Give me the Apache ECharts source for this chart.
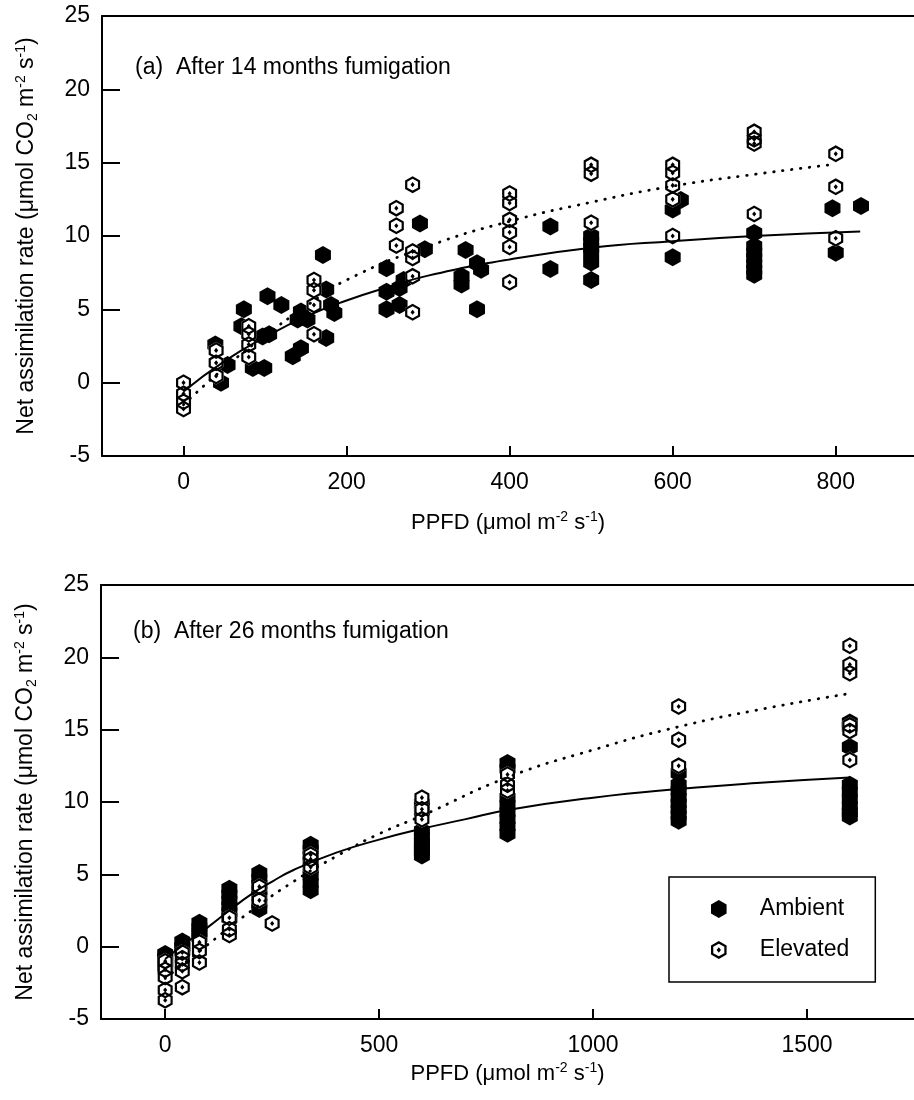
<!DOCTYPE html>
<html><head><meta charset="utf-8">
<script src="https://cdn.jsdelivr.net/npm/echarts@6/dist/echarts.min.js"></script>
<style>html,body{margin:0;padding:0;background:#fff}#c{width:914px;height:1100px}</style>
</head><body><div id="c"></div>
<script>
// ---------- Panel (a): after 14 months ----------
const ambientA = [[39,2.6],[46,0.0],[54,1.2],[74,5.0],[71,3.85],[85,1.0],[99,1.0],[97,3.15],[105,3.3],[103,5.9],[120,5.3],[134,1.8],[144,2.35],[144,4.85],[140,4.3],[152,4.3],[171,8.7],[175,6.35],[181,5.3],[185,4.75],[175,3.05],[249,7.8],[249,6.2],[249,5.0],[265,6.45],[270,7.0],[265,5.3],[290,10.85],[296,9.1],[341,7.25],[341,6.7],[346,9.05],[360,8.15],[365,7.7],[360,5.0],[450,10.65],[450,7.75],[500,10.0],[500,9.6],[500,9.2],[500,8.8],[500,8.2],[500,7.0],[600,11.8],[610,12.45],[600,8.55],[700,10.2],[700,9.3],[700,8.9],[700,8.5],[700,8.1],[700,7.7],[700,7.35],[796,11.9],[800,8.85],[831,12.05]];
const elevatedA = [[0,0.0],[0,-0.75],[0,-1.3],[0,-1.8],[40,2.2],[40,1.35],[40,0.45],[80,3.85],[80,3.3],[80,2.6],[80,1.75],[160,7.0],[160,6.3],[160,5.3],[160,3.3],[261,11.9],[261,10.7],[261,9.35],[281,13.5],[281,8.95],[281,8.5],[281,7.25],[281,4.8],[400,12.9],[400,12.25],[400,11.1],[400,10.25],[400,9.25],[400,6.85],[500,14.85],[500,14.25],[500,10.9],[600,14.85],[600,14.3],[600,13.45],[600,12.5],[600,10.0],[700,17.1],[700,16.6],[700,16.3],[700,11.5],[800,15.6],[800,13.35],[800,9.85]];
const fitAmbAX = [0,50,100,150,200,250,300,400,500,600,700,830];
const fitAmbAY = [-0.6,1.45,3.1,4.5,5.6,6.5,7.3,8.4,9.2,9.65,10.0,10.3];
const fitEleAX = [0,50,100,150,200,300,400,500,600,700,800];
const fitEleAY = [-1.5,1.0,3.2,5.2,7.0,9.3,11.0,12.3,13.4,14.2,14.9];
const xTicksA = [0,200,400,600,800];

// ---------- Panel (b): after 26 months ----------
const ambientB = [[0,-0.5],[0,-0.8],[0,-1.1],[0,-1.4],[40,0.35],[40,0.0],[40,-0.3],[80,1.65],[80,1.3],[80,1.0],[80,0.65],[150,4.0],[150,3.6],[150,3.2],[150,2.8],[150,2.4],[150,2.0],[220,5.1],[220,4.7],[220,4.3],[220,3.9],[220,3.5],[220,3.0],[220,2.6],[340,7.05],[340,6.7],[340,6.3],[340,5.9],[340,5.4],[340,4.9],[340,4.4],[340,3.9],[600,9.9],[600,9.4],[600,8.0],[600,7.6],[600,7.2],[600,6.9],[600,6.6],[600,6.3],[800,12.7],[800,12.3],[800,10.3],[800,9.8],[800,9.3],[800,8.8],[800,8.3],[800,7.8],[1200,12.0],[1200,11.2],[1200,10.8],[1200,10.3],[1200,9.9],[1200,9.5],[1200,9.1],[1200,8.7],[1600,15.5],[1600,15.2],[1600,13.8],[1600,11.2],[1600,10.7],[1600,10.2],[1600,9.7],[1600,9.3],[1600,9.0]];
const elevatedB = [[0,-1.0],[0,-1.6],[0,-2.1],[0,-3.0],[0,-3.7],[40,-0.4],[40,-0.8],[40,-1.2],[40,-1.7],[40,-2.8],[80,0.3],[80,-0.3],[80,-1.1],[150,2.0],[150,1.2],[150,0.8],[220,4.15],[220,3.2],[250,1.6],[340,6.35],[340,6.05],[340,5.5],[600,10.3],[600,9.5],[600,8.8],[800,11.9],[800,11.2],[800,10.8],[1200,16.6],[1200,14.3],[1200,12.5],[1600,20.8],[1600,19.5],[1600,18.9],[1600,15.3],[1600,14.9],[1600,12.9]];
const fitAmbBX = [0,50,100,150,200,250,300,400,500,600,700,800,1000,1200,1400,1600];
const fitAmbBY = [-0.85,0.3,1.35,2.5,3.6,4.5,5.3,6.5,7.4,8.15,8.8,9.45,10.3,10.9,11.35,11.7];
const fitEleBX = [0,100,200,300,400,500,600,800,1000,1200,1400,1600];
const fitEleBY = [-2.2,0.15,2.45,4.5,6.25,7.8,9.05,11.7,13.6,15.2,16.45,17.5];
const xTicksB = [0,500,1000,1500];

const yTitle = 'Net assimilation rate (μmol CO{sub|2} m{sup|-2} s{sup|-1})';
const xTitle = 'PPFD (μmol m{sup|-2} s{sup|-1})';
const panelTitles = ['(a)  After 14 months fumigation', '(b)  After 26 months fumigation'];
const legendNames = ['Ambient', 'Elevated'];

const FONT = '"Liberation Sans", Arial, Helvetica, sans-serif';
const hexPath = 'path://M50 0L93.3 25L93.3 75L50 100L6.7 75L6.7 25Z';
const ringPath = 'path://M50 0L93.3 25L93.3 75L50 100L6.7 75L6.7 25Z M50 15L19.3 32.5L19.3 67.5L50 85L80.7 67.5L80.7 32.5Z M50 35L62 50L50 65L38 50Z';
const zip = (xs, ys) => xs.map((x, i) => [x, ys[i]]);
const black = '#000';
const richSS = {
  sup: {fontSize: 14, lineHeight: 14, verticalAlign: 'top', fontFamily: FONT, color: black},
  sub: {fontSize: 14, lineHeight: 14, verticalAlign: 'bottom', fontFamily: FONT, color: black}
};
const axLine = {show: true, onZero: false, lineStyle: {color: black, width: 2}};

function xAxes(gi, min, max, ticks, gap) {
  return [{
    gridIndex: gi, type: 'value', min: min, max: max, position: 'bottom',
    axisLine: axLine,
    axisTick: {show: true, inside: true, length: 10, customValues: ticks, lineStyle: {color: black, width: 2}},
    axisLabel: {customValues: ticks, fontSize: 23, color: black, margin: 15, fontFamily: FONT,
      formatter: v => String(v)},
    splitLine: {show: false},
    name: xTitle, nameLocation: 'middle', nameGap: gap,
    nameTextStyle: {fontSize: 22, lineHeight: 26, color: black, fontFamily: FONT, rich: richSS}
  }, {
    gridIndex: gi, type: 'value', min: min, max: max, position: 'top',
    axisLine: axLine, axisTick: {show: false}, axisLabel: {show: false}, splitLine: {show: false}
  }];
}
function yAxis(gi) {
  return {
    gridIndex: gi, type: 'value', min: -5, max: 25, interval: 5,
    axisLine: axLine,
    axisTick: {show: true, inside: true, length: 18, lineStyle: {color: black, width: 2}},
    axisLabel: {fontSize: 23, color: black, margin: 12, fontFamily: FONT},
    splitLine: {show: false},
    name: yTitle, nameLocation: 'middle', nameGap: 62, nameRotate: 90,
    nameTextStyle: {fontSize: 23, lineHeight: 26, color: black, fontFamily: FONT, rich: richSS}
  };
}
function panelSeries(xi, yi, amb, ele, ax, ay, ex, ey) {
  return [
    {type: 'line', xAxisIndex: xi, yAxisIndex: yi, data: zip(ax, ay), smooth: true, showSymbol: false,
      lineStyle: {color: black, width: 2}, silent: true},
    {type: 'line', xAxisIndex: xi, yAxisIndex: yi, data: zip(ex, ey), smooth: true, showSymbol: false,
      lineStyle: {color: black, width: 2.8, type: [0.5, 8.5], cap: 'round'}, silent: true},
    {type: 'scatter', name: legendNames[0], xAxisIndex: xi, yAxisIndex: yi, data: amb,
      symbol: hexPath, symbolSize: [16, 18], itemStyle: {color: black, opacity: 1}},
    {type: 'scatter', name: 'bg', xAxisIndex: xi, yAxisIndex: yi, data: ele,
      symbol: hexPath, symbolSize: [15, 17], itemStyle: {color: '#fff', opacity: 1}},
    {type: 'scatter', name: legendNames[1], xAxisIndex: xi, yAxisIndex: yi, data: ele,
      symbol: ringPath, symbolSize: [15, 17], itemStyle: {color: black, opacity: 1}}
  ];
}

const chart = echarts.init(document.getElementById('c'), null, {renderer: 'canvas'});
chart.setOption({
  animation: false,
  backgroundColor: '#fff',
  textStyle: {fontFamily: FONT},
  title: [
    {text: panelTitles[0], left: 135, top: 56, padding: 0,
      textStyle: {fontSize: 23, fontWeight: 'normal', color: black, fontFamily: FONT, lineHeight: 24}},
    {text: panelTitles[1], left: 133, top: 620, padding: 0,
      textStyle: {fontSize: 23, fontWeight: 'normal', color: black, fontFamily: FONT, lineHeight: 24}}
  ],
  legend: {
    data: legendNames, orient: 'vertical', left: 669, top: 877,
    padding: [19, 26, 19, 42], itemWidth: 16, itemHeight: 18, itemGap: 15,
    borderColor: black, borderWidth: 1.5, selectedMode: false,
    itemStyle: {opacity: 1},
    textStyle: {fontSize: 23, lineHeight: 26, color: black, fontFamily: FONT, padding: [0, 0, 0, 28]}
  },
  grid: [
    {left: 102, top: 16, width: 812, height: 440},
    {left: 101, top: 585, width: 813, height: 434}
  ],
  xAxis: [].concat(xAxes(0, -100, 896, xTicksA, 54), xAxes(1, -150, 1750, xTicksB, 42)),
  yAxis: [yAxis(0), yAxis(1)],
  series: [].concat(
    panelSeries(0, 0, ambientA, elevatedA, fitAmbAX, fitAmbAY, fitEleAX, fitEleAY),
    panelSeries(2, 1, ambientB, elevatedB, fitAmbBX, fitAmbBY, fitEleBX, fitEleBY)
  )
});
</script></body></html>
